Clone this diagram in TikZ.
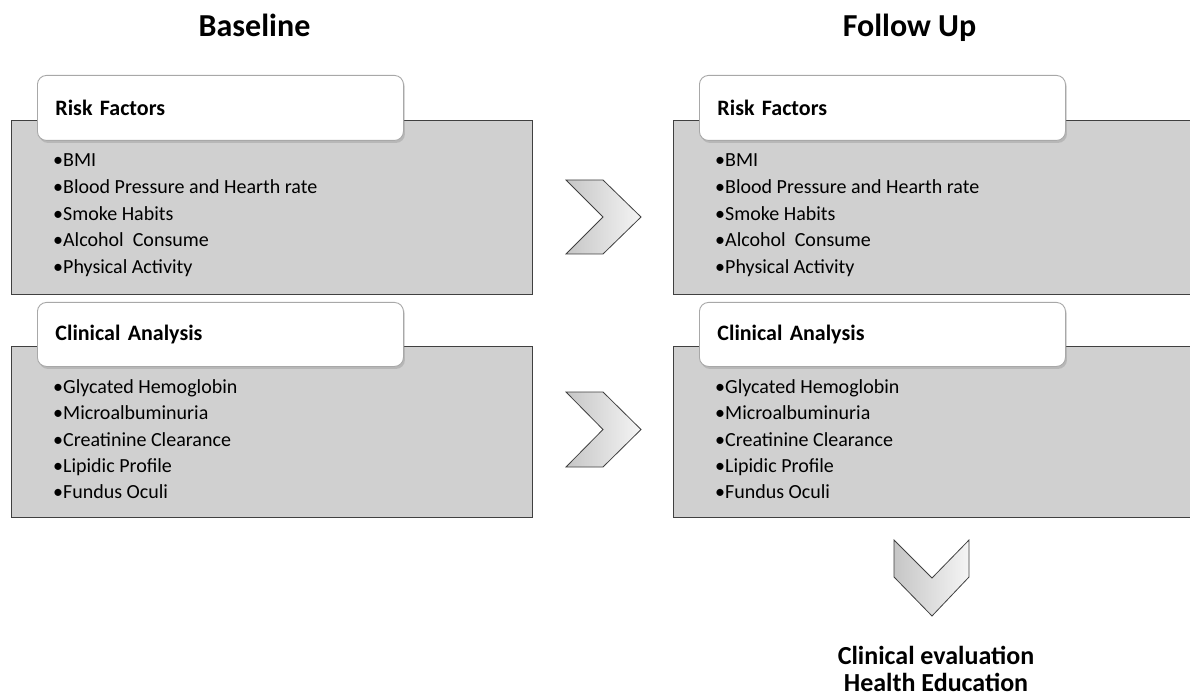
\documentclass[tikz,border=0pt]{standalone}
\usepackage{fontspec}
\setmainfont{Carlito}
\usetikzlibrary{positioning, shadows}
\definecolor{panelgray}{HTML}{D0D0D0}
\definecolor{paneledge}{HTML}{404040}
\definecolor{tabedge}{HTML}{A8A8A8}
\tikzset{
    panel/.style={draw=paneledge, fill=panelgray, line width=1.3pt, inner sep=0pt},
    tab/.style={draw=tabedge, fill=white, rounded corners=9pt, line width=0.9pt, inner xsep=18pt, align=left,
        font=\fontsize{22}{26}\selectfont\bfseries, drop shadow={opacity=0.3, shadow xshift=1.5pt, shadow yshift=-2.5pt}},
    item/.style={font=\fontsize{20}{24}\selectfont, anchor=base west, inner sep=0pt},
    column title/.style={font=\fontsize{32}{38}\selectfont\bfseries, anchor=base, inner sep=0pt},
    outcome/.style={font=\fontsize{26}{27}\selectfont\bfseries, align=center, inner sep=0pt},
    chevron/.style={draw=black!75, line width=0.8pt, left color=gray!45, right color=gray!8, line join=miter},
}
% one column: panel, tab and items; #1 = name prefix, #2 = x offset
\newcommand{\drawcolumn}[2]{
    \begin{scope}[xshift=#2pt]
        \node[panel, anchor=north west, minimum width=521pt, minimum height=174pt] (#1-rf) at (11,120) {};
        \node[tab, anchor=north west, minimum width=366pt, minimum height=65pt, text width=330pt] (#1-rf-tab) at (37,75) {Risk Factors};
        \foreach \txt [count=\i] in {{BMI}, {Blood Pressure and Hearth rate}, {Smoke Habits}, {Alcohol\ \ Consume}, {Physical Activity}}
            \node[item] (#1-rf-\i) at (53,{166.5+(\i-1)*26.8}) {\textbullet\txt};
        \node[panel, anchor=north west, minimum width=521pt, minimum height=171pt] (#1-ca) at (11,346) {};
        \node[tab, anchor=north west, minimum width=366pt, minimum height=64pt, text width=330pt] (#1-ca-tab) at (37,302) {Clinical Analysis};
        \foreach \txt [count=\i] in {{Glycated Hemoglobin}, {Microalbuminuria}, {Creatinine Clearance}, {Lipidic Profile}, {Fundus Oculi}}
            \node[item] (#1-ca-\i) at (53,{393.5+(\i-1)*26.3}) {\textbullet\txt};
    \end{scope}
}

\begin{document}
\begin{tikzpicture}[x=1pt, y=-1pt]
    \clip (0,0) rectangle (1190,700);
    \fill[white] (0,0) rectangle (1190,700);
    \node[column title] (base-title) at (254.5,37) {Baseline};
    \node[column title] (follow-title) at (909.5,37) {Follow Up};
    \drawcolumn{base}{0}
    \drawcolumn{follow}{662}
    % chevrons between the columns
    \draw[chevron] (566,180) -- (603,180) -- (641,217) -- (603,254) -- (566,254) -- (603,217) -- cycle;
    \draw[chevron] (566,392) -- (603,392) -- (641,429.5) -- (603,467) -- (566,467) -- (603,429.5) -- cycle;
    \draw[chevron] (894,540) -- (932,578) -- (969,540) -- (969,577) -- (932,616) -- (894,577) -- cycle;
    \node[outcome, anchor=north] (result) at (936,646) {Clinical evaluation\\Health Education};
\end{tikzpicture}
\end{document}
